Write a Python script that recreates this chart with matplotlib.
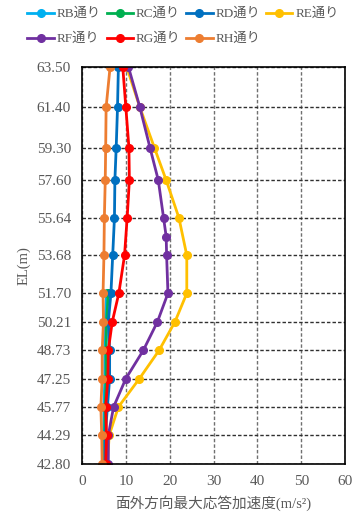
import numpy as np
import matplotlib
matplotlib.use('Agg')
import matplotlib.pyplot as plt

plt.rcParams['font.family'] = ['Liberation Serif', 'Noto Sans CJK JP', 'DejaVu Sans']

# elevation levels (tick labels)
el_ticks = [42.80, 44.29, 45.77, 47.25, 48.73, 50.21, 51.70,
            53.68, 55.64, 57.60, 59.30, 61.40, 63.50]

el_full = [42.80, 44.29, 45.77, 47.25, 48.73, 50.21, 51.70,
           53.68, 55.64, 57.60, 59.30, 61.40, 63.50]
el_low = [42.80, 44.29, 45.77, 47.25, 48.73, 50.21, 51.70]
el_rf = [42.80, 44.29, 45.77, 47.25, 48.73, 50.21, 51.70,
         53.68, 54.66, 55.64, 57.60, 59.30, 61.40, 63.50]

rb = [5.0, 5.0, 5.0, 5.2, 5.2, 5.3, 5.6]
rc = [5.2, 5.2, 5.3, 5.5, 5.5, 5.6, 6.0]
rd = [5.2, 5.3, 5.8, 6.3, 6.3, 6.0, 6.6, 7.0, 7.4, 7.5, 7.8, 8.1, 8.3]
re = [5.8, 6.2, 8.3, 13.1, 17.6, 21.2, 23.9, 23.9, 22.1, 19.2, 16.5, 13.2, 10.2]
rf = [6.0, 6.0, 7.2, 10.0, 14.0, 17.2, 19.6, 19.3, 19.2, 18.6, 17.4, 15.5, 13.2, 10.6]
rg = [5.4, 5.6, 5.4, 5.9, 6.0, 6.9, 8.4, 9.7, 10.3, 10.8, 10.7, 10.0, 9.3]
rh = [4.6, 4.5, 4.3, 4.6, 4.6, 4.9, 4.8, 5.0, 5.1, 5.3, 5.4, 5.5, 6.4]

series = [
    ('RB通り', rb, el_low, '#00B0F0'),
    ('RC通り', rc, el_low, '#00B050'),
    ('RD通り', rd, el_full, '#0070C0'),
    ('RE通り', re, el_full, '#FFC000'),
    ('RF通り', rf, el_rf, '#7030A0'),
    ('RG通り', rg, el_full, '#FF0000'),
    ('RH通り', rh, el_full, '#ED7D31'),
]

fig = plt.figure(figsize=(3.55, 5.16), dpi=100)
ax = fig.add_axes([0.231, 0.101, 0.741, 0.769])

lines = []
for name, xs, ys, col in series:
    ln, = ax.plot(xs, ys, color=col, lw=2, marker='o', markersize=5.5, label=name)
    lines.append(ln)

ax.set_xlim(0, 60)
ax.set_ylim(42.80, 63.50)
ax.set_xticks(np.arange(0, 61, 10))
ax.set_yticks(el_ticks)
ax.set_yticklabels([f'{v:.2f}' for v in el_ticks])

ax.grid(axis='x', color='#707070', linestyle=(0, (2.5, 1.5)), lw=1)
ax.grid(axis='y', color='#303030', linestyle=(0, (2.5, 1.5)), lw=1)
ax.tick_params(length=0, labelsize=11, colors='#595959', pad=8)
for s in ax.spines.values():
    s.set_color('black')
    s.set_linewidth(1.2)

ax.set_xlabel('面外方向最大応答加速度(m/s²)', fontsize=10.5, color='#595959', labelpad=5)
ax.set_ylabel('EL(m)', fontsize=10.5, color='#595959', labelpad=4)

# row-wise legend order (matplotlib fills columns first)
order = [0, 4, 1, 5, 2, 6, 3]
fig.legend([lines[i] for i in order], [series[i][0] for i in order],
           loc='upper left', bbox_to_anchor=(0.055, 1.0), ncol=4, frameon=False,
           fontsize=9.5, labelcolor='#595959', handlelength=2.0, handletextpad=0.2,
           columnspacing=0.45, borderaxespad=0.2, labelspacing=0.95)

fig.savefig('out.png', dpi=100)
